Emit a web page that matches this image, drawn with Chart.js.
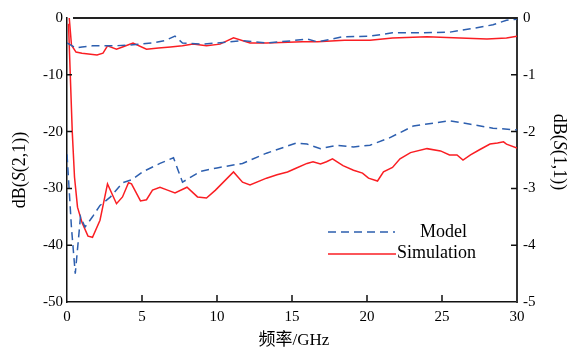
<!DOCTYPE html>
<html>
<head>
<meta charset="utf-8">
<script src="https://cdn.jsdelivr.net/npm/chart.js"></script>
<style>
  html, body { margin: 0; padding: 0; background: #fff; }
  #wrap { width: 568px; height: 352px; }
</style>
</head>
<body>
<div id="wrap"><canvas id="myChart" width="568" height="352"></canvas></div>
<script>
// upper pair, read on the right axis
const modelTopF = [0, 0.6, 1, 1.7, 3, 4, 5.7, 6.5, 7.2, 7.7, 9, 10, 11.7, 13.3, 15, 16, 16.7, 18.4, 20.2, 21.7, 23.3, 25.5, 26.9, 28.4, 29.3, 30];
const modelTopV = [-0.44, -0.53, -0.51, -0.49, -0.49, -0.48, -0.44, -0.40, -0.32, -0.44, -0.46, -0.44, -0.40, -0.44, -0.40, -0.37, -0.42, -0.33, -0.32, -0.26, -0.26, -0.25, -0.19, -0.12, -0.04, -0.02];

const simTopF = [0.15, 0.3, 0.6, 1, 2, 2.4, 2.7, 3.3, 3.7, 4.4, 5.3, 6.1, 6.9, 7.7, 8.4, 9.3, 10.2, 11.1, 12.2, 13.3, 15.7, 16.7, 18.5, 20.2, 21.7, 24, 26.2, 28, 29.3, 30];
const simTopV = [0, -0.48, -0.60, -0.62, -0.65, -0.62, -0.49, -0.55, -0.51, -0.44, -0.55, -0.53, -0.51, -0.49, -0.46, -0.49, -0.46, -0.35, -0.44, -0.44, -0.42, -0.42, -0.39, -0.39, -0.35, -0.33, -0.35, -0.37, -0.35, -0.32];

// lower pair, read on the left axis
const modelLowF = [0, 0.3, 0.55, 0.9, 1.2, 1.7, 2.2, 2.9, 3.7, 4.3, 5.1, 6.2, 7.1, 7.7, 8.9, 10, 11.7, 13.3, 15.3, 16, 16.9, 18, 19.1, 20.2, 21.5, 23.1, 25.5, 26.9, 28.4, 30];
const modelLowV = [-24, -37, -45, -35, -36.8, -35, -33, -31.5, -29, -28.5, -27, -25.6, -24.6, -28.9, -27, -26.4, -25.6, -23.8, -22, -22.2, -23, -22.4, -22.7, -22.4, -21.1, -19, -18.1, -18.7, -19.4, -19.7];

const simLowF = [0.1, 0.35, 0.5, 0.7, 1, 1.4, 1.7, 2.2, 2.7, 3.3, 3.7, 4.1, 4.3, 4.9, 5.3, 5.7, 6.2, 6.7, 7.2, 8, 8.7, 9.3, 9.9, 11.1, 11.7, 12.2, 13.3, 14, 14.7, 15.3, 16, 16.4, 16.9, 17.3, 17.7, 18.4, 19.1, 19.7, 20.1, 20.7, 21.1, 21.7, 22.2, 22.9, 24, 24.9, 25.5, 26, 26.4, 26.9, 27.5, 28.2, 28.7, 29.1, 29.3, 30];
const simLowV = [-1, -20, -28, -33.3, -36, -38.4, -38.6, -35.6, -29.2, -32.7, -31.5, -29, -29.2, -32.2, -32, -30.3, -29.8, -30.3, -30.8, -29.8, -31.5, -31.7, -30.3, -27.1, -28.9, -29.4, -28.2, -27.6, -27.1, -26.4, -25.6, -25.3, -25.7, -25.3, -24.8, -26, -26.8, -27.3, -28.2, -28.7, -27.1, -26.3, -24.8, -23.7, -23, -23.4, -24.1, -24.1, -25, -24.1, -23.2, -22.2, -22, -21.8, -22.2, -22.9];

const legendLabels = ['Model', 'Simulation'];

const BLUE = 'rgb(45, 95, 175)';
const RED = 'rgb(250, 30, 35)';
const SERIF = "'Liberation Serif', 'Noto Sans CJK SC', serif";

function pts(xs, ys) { return xs.map((x, i) => ({x: x, y: ys[i]})); }

function line(data, color, dashed, axis) {
    return {
        data: data,
        yAxisID: axis,
        borderColor: color,
        borderWidth: 1.5,
        borderDash: dashed ? [8, 5] : [],
        pointRadius: 0,
        tension: 0,
        fill: false
    };
}

// inward ticks, top frame, titles and the legend
const decor = {
    id: 'decor',
    afterDraw(chart) {
        const c = chart.ctx;
        const a = chart.chartArea;
        const sx = chart.scales.x, sy = chart.scales.y, sy2 = chart.scales.y2;
        c.save();
        c.strokeStyle = '#222';
        c.lineWidth = 2;
        c.beginPath();
        c.moveTo(a.left + 6, a.top);
        c.lineTo(a.right, a.top);
        c.stroke();

        c.lineWidth = 1.5;
        c.strokeStyle = '#111';
        c.beginPath();
        [5, 10, 15, 20, 25].forEach(v => {
            const px = sx.getPixelForValue(v);
            c.moveTo(px, a.bottom); c.lineTo(px, a.bottom - 7);
        });
        [-40, -30, -20, -10].forEach(v => {
            const py = sy.getPixelForValue(v);
            c.moveTo(a.left, py); c.lineTo(a.left + 5, py);
        });
        [-4, -3, -2, -1].forEach(v => {
            const py = sy2.getPixelForValue(v);
            c.moveTo(a.right, py); c.lineTo(a.right - 6, py);
        });
        c.stroke();

        // legend
        c.lineWidth = 1.5;
        c.strokeStyle = BLUE;
        c.setLineDash([8, 5]);
        c.beginPath(); c.moveTo(328, 232); c.lineTo(395, 232); c.stroke();
        c.setLineDash([]);
        c.strokeStyle = RED;
        c.beginPath(); c.moveTo(328, 254); c.lineTo(396, 254); c.stroke();
        c.fillStyle = '#000';
        c.font = '18px ' + SERIF;
        c.textBaseline = 'middle';
        c.textAlign = 'left';
        c.fillText(legendLabels[0], 420, 232);
        c.fillText(legendLabels[1], 397, 253);

        // x title
        c.font = '17px ' + SERIF;
        c.textAlign = 'center';
        c.fillText('频率/GHz', (a.left + a.right) / 2 + 2, 341);

        // y titles with italic S
        function rich(parts, cx, cy, rot) {
            c.save();
            c.translate(cx, cy);
            c.rotate(rot);
            let w = 0;
            parts.forEach(p => { c.font = (p[1] ? 'italic ' : '') + '18px ' + SERIF; w += c.measureText(p[0]).width; });
            let x = -w / 2;
            c.textAlign = 'left';
            parts.forEach(p => {
                c.font = (p[1] ? 'italic ' : '') + '18px ' + SERIF;
                c.fillText(p[0], x, 0);
                x += c.measureText(p[0]).width;
            });
            c.restore();
        }
        rich([['dB(', false], ['S', true], ['(2,1))', false]], 20, 170, -Math.PI / 2);
        rich([['dB(', false], ['S', true], ['(1,1))', false]], 559, 152, Math.PI / 2);
        c.restore();
    }
};

const tickFont = { family: SERIF, size: 15 };

new Chart(document.getElementById('myChart').getContext('2d'), {
    type: 'line',
    data: {
        datasets: [
            line(pts(modelTopF, modelTopV), BLUE, true, 'y2'),
            line(pts(simTopF, simTopV), RED, false, 'y2'),
            line(pts(modelLowF, modelLowV), BLUE, true, 'y'),
            line(pts(simLowF, simLowV), RED, false, 'y')
        ]
    },
    options: {
        responsive: false,
        animation: false,
        layout: { padding: { top: 18, left: 0, right: 0, bottom: 0 } },
        plugins: { legend: { display: false }, tooltip: { enabled: false } },
        scales: {
            x: {
                type: 'linear', min: 0, max: 30,
                ticks: { stepSize: 5, color: '#000', font: tickFont, padding: 6, autoSkip: false, maxRotation: 0 },
                grid: { drawOnChartArea: false, drawTicks: false },
                border: { color: '#111', width: 1.5 },
                afterFit(s) { s.height = 50; }
            },
            y: {
                min: -50, max: 0,
                ticks: { stepSize: 10, color: '#000', font: tickFont, padding: 4 },
                grid: { drawOnChartArea: false, drawTicks: false },
                border: { color: '#111', width: 1.5 },
                afterFit(s) { s.width = 67; }
            },
            y2: {
                position: 'right', min: -5, max: 0,
                ticks: { stepSize: 1, color: '#000', font: tickFont, padding: 6 },
                grid: { drawOnChartArea: false, drawTicks: false },
                border: { color: '#333', width: 2 },
                afterFit(s) { s.width = 51; }
            }
        }
    },
    plugins: [decor]
});
</script>
</body>
</html>
